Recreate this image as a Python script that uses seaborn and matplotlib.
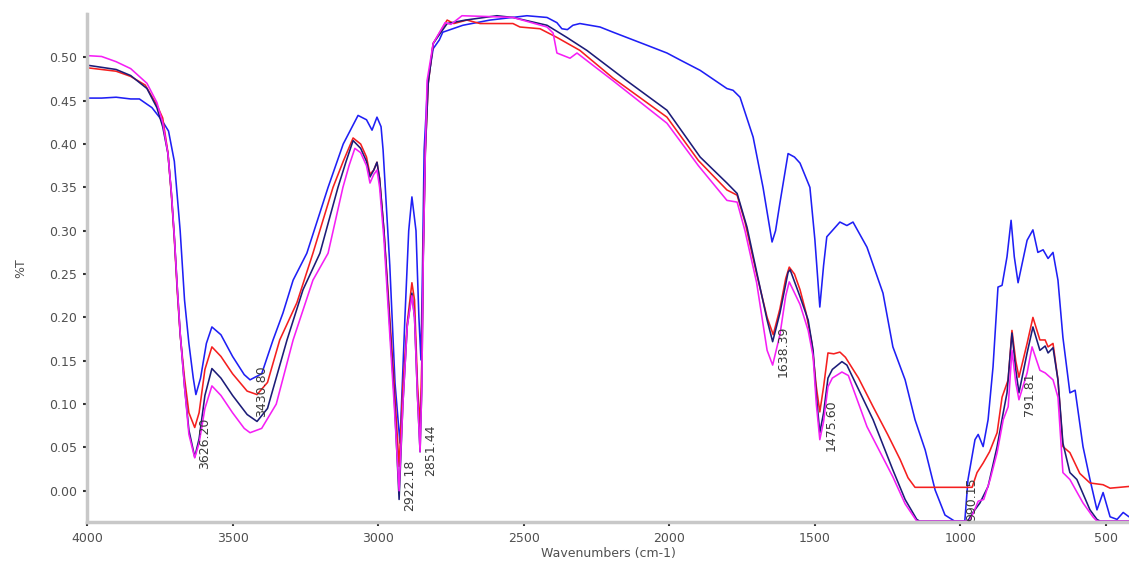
import numpy as np
import pandas as pd
import matplotlib
matplotlib.use("Agg")
import matplotlib.pyplot as plt
from matplotlib.ticker import MultipleLocator, FormatStrFormatter
import seaborn as sns

# ---- spectra: wavenumber (cm-1) and %T ----
wn_blue = [4000, 3950, 3900, 3850, 3820, 3777, 3742, 3720, 3700, 3680, 3665, 3650, 3635, 3626,
           3610, 3590, 3571, 3540, 3500, 3460, 3440, 3400, 3361, 3327, 3292, 3245, 3172, 3120,
           3069, 3040, 3021, 3004, 2990, 2983, 2960, 2942, 2925, 2908, 2895, 2884, 2870, 2860,
           2853, 2848, 2842, 2830, 2811, 2790, 2778, 2709, 2616, 2489, 2420, 2386, 2369, 2350,
           2331, 2307, 2238, 2193, 2077, 2008, 1963, 1894, 1802, 1781, 1757, 1712, 1678, 1647,
           1635, 1620, 1592, 1570, 1551, 1517, 1500, 1483, 1470, 1459, 1414, 1390, 1369, 1321,
           1266, 1232, 1190, 1156, 1121, 1087, 1053, 1020, 985, 974, 950, 939, 922, 905, 888,
           871, 857, 840, 826, 815, 802, 771, 751, 734, 716, 699, 682, 665, 648, 624, 606, 579,
           555, 531, 510, 486, 462, 441, 421]
t_blue = [0.453, 0.453, 0.454, 0.452, 0.452, 0.442, 0.427, 0.415, 0.380, 0.300, 0.220, 0.170, 0.130, 0.111,
          0.130, 0.170, 0.189, 0.180, 0.155, 0.134, 0.128, 0.135, 0.174, 0.205, 0.243, 0.274, 0.350, 0.400,
          0.433, 0.428, 0.416, 0.431, 0.420, 0.393, 0.260, 0.124, 0.055, 0.200, 0.300, 0.339, 0.300, 0.200,
          0.151, 0.250, 0.393, 0.470, 0.510, 0.520, 0.529, 0.537, 0.543, 0.548, 0.546, 0.540, 0.533, 0.532,
          0.537, 0.539, 0.535, 0.529, 0.514, 0.505, 0.497, 0.485, 0.464, 0.462, 0.454, 0.408, 0.350, 0.287,
          0.300, 0.332, 0.389, 0.385, 0.378, 0.350, 0.290, 0.212, 0.260, 0.293, 0.310, 0.306, 0.310, 0.281,
          0.228, 0.166, 0.128, 0.082, 0.047, 0.001, -0.028, -0.035, -0.035, 0.013, 0.059, 0.065, 0.051, 0.082, 0.143,
          0.235, 0.237, 0.270, 0.312, 0.270, 0.240, 0.289, 0.301, 0.275, 0.278, 0.268, 0.275, 0.243, 0.177, 0.113, 0.116, 0.051,
          0.013, -0.022, -0.002, -0.030, -0.033, -0.025, -0.030]

wn_red = [4000, 3900, 3850, 3800, 3760, 3740, 3722, 3710, 3700, 3690, 3680, 3665, 3650, 3630, 3615,
          3595, 3571, 3540, 3500, 3450, 3416, 3380, 3338, 3279, 3224, 3155, 3120, 3086, 3060, 3040,
          3028, 3015, 3004, 2995, 2980, 2960, 2945, 2928, 2915, 2900, 2884, 2875, 2865, 2856, 2850,
          2845, 2838, 2828, 2811, 2763, 2740, 2695, 2650, 2537, 2513, 2444, 2386, 2307, 2193, 2008,
          1900, 1802, 1767, 1740, 1700, 1664, 1643, 1620, 1600, 1588, 1570, 1551, 1530, 1510, 1495,
          1483, 1470, 1455, 1435, 1414, 1395, 1350, 1300, 1250, 1207, 1180, 1156, 960, 943, 922, 900,
          874, 857, 836, 823, 810, 799, 771, 751, 727, 709, 699, 682, 665, 648, 624, 590, 555, 510,
          486, 421]
t_red = [0.488, 0.484, 0.478, 0.468, 0.445, 0.430, 0.390, 0.340, 0.290, 0.230, 0.180, 0.130, 0.090, 0.073, 0.090,
         0.140, 0.166, 0.155, 0.135, 0.115, 0.111, 0.125, 0.174, 0.217, 0.274, 0.350, 0.380, 0.407, 0.400, 0.385,
         0.365, 0.370, 0.379, 0.360, 0.300, 0.200, 0.124, 0.028, 0.120, 0.194, 0.240, 0.220, 0.124, 0.074, 0.150,
         0.278, 0.393, 0.470, 0.516, 0.543, 0.539, 0.543, 0.539, 0.539, 0.535, 0.533, 0.523, 0.508, 0.476, 0.431,
         0.381, 0.347, 0.341, 0.310, 0.250, 0.200, 0.180, 0.210, 0.245, 0.258, 0.250, 0.232, 0.205, 0.170, 0.120,
         0.091, 0.120, 0.159, 0.158, 0.160, 0.154, 0.130, 0.097, 0.065, 0.036, 0.015, 0.004, 0.004, 0.021, 0.032, 0.045,
         0.067, 0.108, 0.128, 0.185, 0.150, 0.131, 0.170, 0.200, 0.174, 0.174, 0.166, 0.170, 0.128, 0.051, 0.044, 0.020, 0.009, 0.007,
         0.003, 0.005]

wn_navy = [4000, 3900, 3850, 3794, 3760, 3740, 3722, 3710, 3700, 3690, 3680, 3665, 3650, 3630, 3615,
           3595, 3571, 3540, 3500, 3450, 3416, 3380, 3313, 3258, 3200, 3138, 3110, 3086, 3060, 3040,
           3028, 3015, 3004, 2995, 2980, 2960, 2945, 2928, 2915, 2900, 2884, 2875, 2865, 2856, 2850,
           2845, 2838, 2828, 2811, 2763, 2700, 2592, 2537, 2420, 2352, 2283, 2146, 2008, 1894, 1802,
           1767, 1733, 1699, 1664, 1645, 1620, 1592, 1585, 1551, 1523, 1506, 1495, 1483, 1470, 1455,
           1440, 1407, 1390, 1300, 1232, 1190, 1150, 1140, 975, 957, 933, 905, 874, 853, 840, 823, 810,
           799, 771, 751, 727, 709, 699, 682, 665, 648, 624, 600, 555, 531, 520, 421]
t_navy = [0.491, 0.486, 0.479, 0.464, 0.442, 0.420, 0.389, 0.343, 0.293, 0.235, 0.182, 0.120, 0.070, 0.039, 0.060,
          0.110, 0.141, 0.130, 0.110, 0.088, 0.080, 0.095, 0.174, 0.232, 0.274, 0.350, 0.380, 0.404, 0.395, 0.380,
          0.362, 0.370, 0.379, 0.360, 0.300, 0.190, 0.110, -0.010, 0.100, 0.190, 0.228, 0.200, 0.110, 0.045, 0.120,
          0.270, 0.390, 0.470, 0.516, 0.539, 0.543, 0.548, 0.546, 0.537, 0.523, 0.508, 0.473, 0.439, 0.385, 0.355,
          0.343, 0.304, 0.251, 0.197, 0.172, 0.205, 0.252, 0.255, 0.224, 0.197, 0.162, 0.110, 0.067, 0.090, 0.130,
          0.140, 0.149, 0.145, 0.082, 0.024, -0.010, -0.033, -0.035, -0.035, -0.025, -0.014, 0.005, 0.051, 0.090, 0.113, 0.182, 0.140,
          0.113, 0.159, 0.189, 0.162, 0.167, 0.159, 0.165, 0.128, 0.055, 0.021, 0.013, -0.022, -0.033, -0.035, -0.035]

wn_magenta = [4000, 3950, 3900, 3850, 3794, 3760, 3740, 3722, 3710, 3700, 3690, 3680, 3665, 3650, 3630,
              3615, 3595, 3571, 3540, 3500, 3460, 3440, 3400, 3350, 3292, 3224, 3172, 3121, 3100, 3080,
              3060, 3040, 3028, 3015, 3004, 2995, 2980, 2960, 2945, 2928, 2915, 2900, 2884, 2875, 2865,
              2856, 2850, 2845, 2838, 2832, 2811, 2770, 2750, 2712, 2616, 2537, 2420, 2399, 2386, 2341,
              2317, 2193, 2008, 1900, 1802, 1767, 1740, 1700, 1664, 1645, 1620, 1600, 1588, 1551, 1523,
              1506, 1495, 1483, 1470, 1455, 1440, 1407, 1385, 1321, 1232, 1190, 1150, 970, 955, 939, 920,
              898, 874, 853, 836, 823, 810, 799, 771, 754, 727, 709, 682, 665, 648, 624, 579, 545, 531, 421]
t_magenta = [0.502, 0.501, 0.495, 0.487, 0.470, 0.448, 0.425, 0.389, 0.343, 0.293, 0.235, 0.182, 0.120, 0.065, 0.038,
             0.055, 0.095, 0.121, 0.110, 0.090, 0.072, 0.067, 0.072, 0.100, 0.174, 0.243, 0.274, 0.350, 0.375, 0.395,
             0.390, 0.375, 0.355, 0.365, 0.370, 0.350, 0.290, 0.180, 0.100, 0.000, 0.100, 0.190, 0.225, 0.200, 0.110,
             0.045, 0.120, 0.270, 0.390, 0.473, 0.516, 0.540, 0.538, 0.548, 0.547, 0.546, 0.535, 0.528, 0.505, 0.499,
             0.505, 0.473, 0.424, 0.375, 0.335, 0.333, 0.300, 0.240, 0.162, 0.145, 0.180, 0.225, 0.241, 0.215, 0.185,
             0.155, 0.100, 0.059, 0.080, 0.120, 0.130, 0.137, 0.133, 0.074, 0.016, -0.015, -0.035, -0.035, -0.025, -0.012, -0.010,
             0.013, 0.044, 0.082, 0.097, 0.162, 0.125, 0.105, 0.136, 0.166, 0.139, 0.136, 0.128, 0.108, 0.021, 0.013, -0.014, -0.030, -0.035, -0.035]

# ---- labelled bands ----
peak_text = ["3626.20", "3430.80", "2922.18", "2851.44", "1638.39", "1475.60", "990.15", "791.81"]
peak_wn = [3626.20, 3430.80, 2922.18, 2851.44, 1638.39, 1475.60, 990.15, 791.81]
label_top = [0.084, 0.145, 0.036, 0.076, 0.191, 0.105, 0.015, 0.137]

series = [
    ("blue", wn_blue, t_blue, "#1f1ff5"),
    ("red", wn_red, t_red, "#f51f1f"),
    ("navy", wn_navy, t_navy, "#1c1c78"),
    ("magenta", wn_magenta, t_magenta, "#f51ff5"),
]

sns.set_style("white")
plt.rcParams["font.family"] = ["DejaVu Sans"]

fig = plt.figure(figsize=(11.29, 5.63), dpi=100)
ax = fig.add_axes([87 / 1129, 41 / 563, 1042 / 1129, 508 / 563])

for name, wn, t, col in series:
    df = pd.DataFrame({"wn": wn, "T": t})
    sns.lineplot(data=df, x="wn", y="T", color=col, lw=1.15, ax=ax,
                 estimator=None, sort=False, legend=False)

for txt, wn, top in zip(peak_text, peak_wn, label_top):
    ax.text(wn - 30, top, txt, rotation=90, ha="center", va="top",
            fontsize=9, color="#3a3a3a")

ax.set_xlim(4000, 421)

ax.xaxis.set_major_locator(MultipleLocator(500))
ax.xaxis.set_minor_locator(MultipleLocator(100))
ax.yaxis.set_minor_locator(MultipleLocator(0.01))
ax.yaxis.set_major_formatter(FormatStrFormatter("%.2f"))
ax.set_yticks([v / 100 for v in range(0, 51, 5)])
ax.set_ylim(-0.036, 0.55)

for side in ("top", "right"):
    ax.spines[side].set_visible(False)
for side in ("left", "bottom"):
    ax.spines[side].set_color("#c8c8c8")
    ax.spines[side].set_linewidth(2.5)

ax.tick_params(which="major", direction="out", length=3, width=1.5, color="#333333",
               labelsize=9, labelcolor="#505050", pad=4)
ax.tick_params(which="minor", direction="inout", length=2, width=1.5, color="#333333")
ax.tick_params(axis="both", which="both", left=True, bottom=True)

ax.set_xlabel("Wavenumbers (cm-1)", fontsize=9, color="#505050")
ax.set_ylabel("%T", fontsize=9, color="#505050")
ax.xaxis.set_label_coords(0.5, -0.05)
ax.yaxis.set_label_coords(-0.057, 0.5)

fig.savefig("out.png", dpi=100)
